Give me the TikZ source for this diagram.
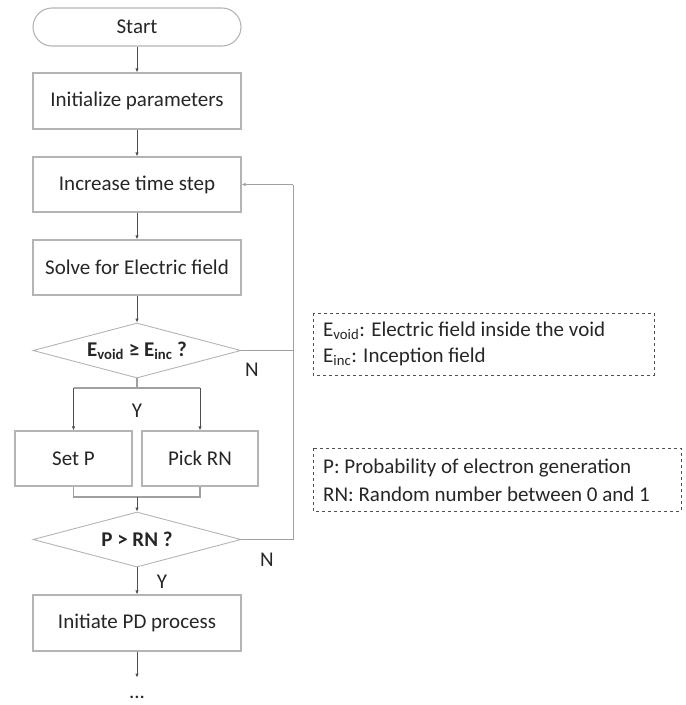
\documentclass[tikz,border=0pt]{standalone}
\usepackage{fontspec}
\setmainfont{Carlito}
\usetikzlibrary{shapes.geometric,arrows.meta}
\definecolor{boxgray}{HTML}{B4B4B4}
\definecolor{linegray}{HTML}{A0A0A0}
\definecolor{arrowgray}{HTML}{505050}
\definecolor{txt}{HTML}{262626}
\begin{document}
\begin{tikzpicture}[x=1pt,y=-1pt,
  every node/.style={text=txt,font=\fontsize{21}{25}\selectfont},
  procbox/.style={draw=boxgray,line width=1.3pt,rectangle,minimum width=208pt,minimum height=55pt,inner sep=0pt},
  halfbox/.style={draw=boxgray,line width=1.3pt,rectangle,minimum width=116pt,minimum height=55pt,inner sep=0pt},
  termbox/.style={draw=boxgray,line width=1.1pt,rectangle,rounded corners=19pt,minimum width=208pt,minimum height=38pt,inner sep=0pt},
  decbox/.style={draw=boxgray,line width=0.9pt,diamond,aspect=3.8,minimum width=208pt,minimum height=55pt,inner sep=0pt,font=\fontsize{21}{25}\selectfont\bfseries},
  notebox/.style={draw=arrowgray,dashed,line width=0.7pt,rectangle,inner sep=0pt},
  flow/.style={draw=arrowgray,line width=0.8pt,-{Latex[length=4pt,width=3.5pt]}},
  link/.style={draw=linegray,line width=1.2pt},
  lbl/.style={inner sep=0pt}
]
\useasboundingbox (0,0) rectangle (686,705);

\node[termbox] (start) at (137,27) {Start};
\node[procbox,minimum height=56pt] (init) at (137,101) {Initialize parameters};
\node[procbox] (inc) at (137,184.5) {Increase time step};
\node[procbox] (solve) at (137,267.5) {Solve for Electric field};
\node[decbox] (d1) at (137,350.5) {E\textsubscript{void} ≥ E\textsubscript{inc} ?};
\node[halfbox,minimum width=117pt] (setp) at (73.5,458.5) {Set P};
\node[halfbox] (pick) at (200,458.5) {Pick RN};
\node[decbox] (d2) at (137,539.5) {P > RN ?};
\node[procbox,minimum height=56pt] (pd) at (137,623) {Initiate PD process};
\node[lbl] (dots) at (137,697) {...};

\coordinate (br) at (137,388);
\coordinate (brl) at (73.5,388);
\coordinate (brr) at (200,388);
\coordinate (mg) at (137,497);
\coordinate (mgl) at (73.5,497);
\coordinate (mgr) at (200,497);
\coordinate (lp1) at (293,350.5);
\coordinate (lp2) at (293,539.5);
\coordinate (lp3) at (293,184.5);

\draw[flow] (start.south) -- (init.north);
\draw[flow] (init.south) -- (inc.north);
\draw[flow] (inc.south) -- (solve.north);
\draw[flow] (solve.south) -- (d1.north);

\draw[link] (d1.south) -- (br);
\draw[link] (brl) -- (brr);
\draw[flow] (brl) -- (setp.north);
\draw[flow] (brr) -- (pick.north);
\draw[link] (setp.south) -- (mgl) -- (mgr) -- (pick.south);
\draw[flow] (mg) -- (d2.north);
\draw[flow] (d2.south) -- (pd.north);
\draw[flow] (pd.south) -- ++(0,26);

\draw[link,line width=1pt] (d1.east) -- (lp1);
\draw[link,line width=1pt] (d2.east) -- (lp2) -- (lp1);
\draw[link,line width=1pt] (lp1) -- (lp3);
\draw[flow,draw=linegray,line width=1pt] (lp3) -- (inc.east);

\node[lbl] (n1) at (252,370) {N};
\node[lbl] (n2) at (267,560) {N};
\node[lbl] (y1) at (137,411) {Y};
\node[lbl] (y2) at (162,582) {Y};

\draw[notebox] (313,313) rectangle (654,375);
\node[lbl,anchor=west] (t1) at (323,331) {E\textsubscript{void}: Electric field inside the void};
\node[lbl,anchor=west] (t2) at (323,357) {E\textsubscript{inc}: Inception field};
\draw[notebox] (313,448) rectangle (681,511);
\node[lbl,anchor=west] (t3) at (323,468) {P: Probability of electron generation};
\node[lbl,anchor=west] (t4) at (323,494) {RN: Random number between 0 and 1};
\end{tikzpicture}
\end{document}
